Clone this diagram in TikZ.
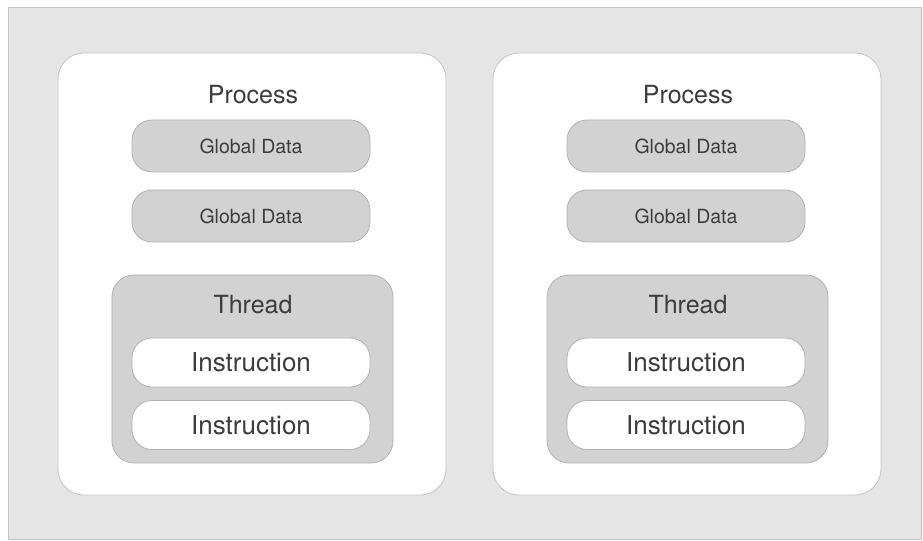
\documentclass[tikz,border=0pt]{standalone}
\usepackage{fontspec}
\setmainfont{TeX Gyre Heros}
\definecolor{bgray}{HTML}{E5E5E6}
\definecolor{edge}{HTML}{C4C4C4}
\definecolor{dgray}{HTML}{D2D2D3}
\definecolor{dedge}{HTML}{B2B2B2}
\definecolor{txt}{HTML}{3C3C3C}
\tikzset{
  procbox/.style={draw=edge, fill=white, line width=0.8bp, rounded corners=26bp,
    minimum width=388bp, minimum height=442bp, inner sep=0pt},
  databox/.style={draw=dedge, fill=dgray, line width=0.8bp, rounded corners=20bp,
    minimum width=238bp, minimum height=52bp, inner sep=0pt, text=txt, font=\fontsize{19.5bp}{20bp}\selectfont},
  threadbox/.style={draw=dedge, fill=dgray, line width=0.8bp, rounded corners=22bp,
    minimum width=281bp, minimum height=188bp, inner sep=0pt},
  instrbox/.style={draw=dedge, fill=white, line width=0.8bp, rounded corners=20bp,
    minimum width=238bp, minimum height=49bp, inner sep=0pt, text=txt, font=\fontsize{26bp}{28bp}\selectfont},
  title/.style={text=txt, font=\fontsize{25bp}{27bp}\selectfont, inner sep=0pt}
}
\begin{document}
\begin{tikzpicture}[x=1bp, y=-1bp]
	\useasboundingbox (0,0) rectangle (923,541);
	% background
	\draw[draw=edge, fill=bgray, line width=0.8bp] (8,7) rectangle (921.5,539);
	\foreach \dx/\p in {0/L,435/R}{
		\begin{scope}[xshift=\dx bp]
			\node[procbox] (proc\p) at (252,274) {};
			\node[title] (ptitle\p) at (253,95) {Process};
			\node[databox] (dataA\p) at (251,146) {Global Data};
			\node[databox] (dataB\p) at (251,216) {Global Data};
			\node[threadbox] (thr\p) at (252.5,369) {};
			\node[title] (ttitle\p) at (253,305) {Thread};
			\node[instrbox] (insA\p) at (251,362.5) {Instruction};
			\node[instrbox] (insB\p) at (251,425) {Instruction};
		\end{scope}
	}
\end{tikzpicture}
\end{document}
